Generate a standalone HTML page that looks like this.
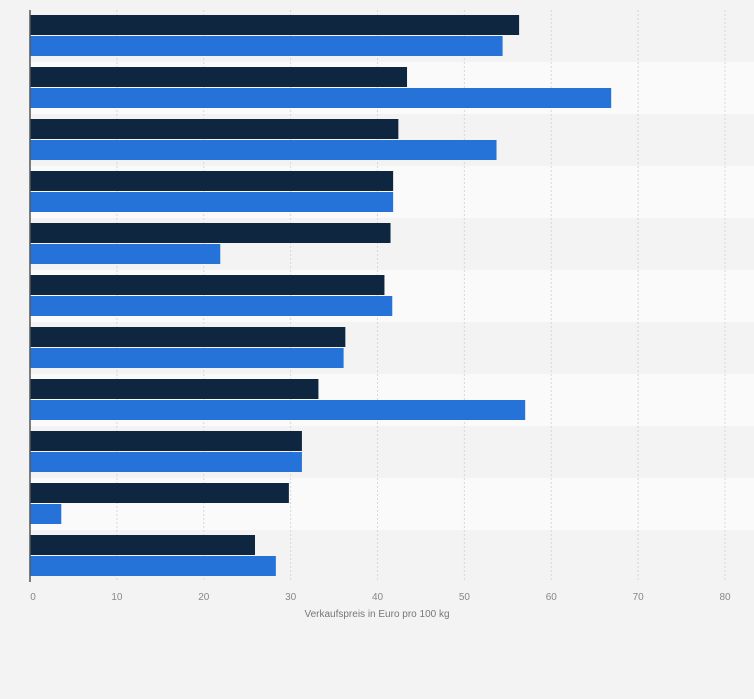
<!DOCTYPE html>
<html><head><meta charset="utf-8"><style>
body{margin:0;background:#f3f3f3;font-family:"Liberation Sans",sans-serif;}
svg{display:block;}
</style></head><body>
<svg id="c" width="754" height="699" xmlns="http://www.w3.org/2000/svg"></svg>
<script>
const categories=["r1","r2","r3","r4","r5","r6","r7","r8","r9","r10","r11"];
const series1=[56.3,43.4,42.4,41.8,41.5,40.8,36.3,33.2,31.3,29.8,25.9];
const series2=[54.4,66.9,53.7,41.8,21.9,41.7,36.1,57.0,31.3,3.6,28.3];
const ticks=[0,10,20,30,40,50,60,70,80];
const NS="http://www.w3.org/2000/svg",svgEl=document.getElementById('c');
const x0=30,x1=725,topY=10,rowH=52,maxV=80;
const xs=v=>x0+v/maxV*(x1-x0);
function el(t,a){const e=document.createElementNS(NS,t);for(const k in a)e.setAttribute(k,a[k]);svgEl.appendChild(e);return e;}
categories.forEach((c,i)=>{
  if(i%2===1){const b=el('rect',{x:x0,y:topY+i*rowH,width:x1-x0+29,height:rowH,fill:'#fafafa'});
  
  }
});
ticks.forEach(t=>{
  if(t>0){const g=el('line',{x1:xs(t),x2:xs(t),y1:topY,y2:topY+rowH*categories.length,stroke:'#d8d8d8','stroke-dasharray':'2,2'});
  
  }
  const l=el('text',{x:xs(t)+(t===0?3:0),y:600,'font-size':10,fill:'#888','text-anchor':'middle'});
  l.textContent=t;
  
  
});
categories.forEach((c,i)=>{
  const y=topY+i*rowH;
  const a=el('rect',{x:x0,y:y+5,width:xs(series1[i])-x0,height:20,fill:'#0f2640'});
  
  
  const b=el('rect',{x:x0,y:y+26,width:xs(series2[i])-x0,height:20,fill:'#2573d9'});
  
  
});
const ax=el('line',{x1:x0,x2:x0,y1:topY,y2:topY+rowH*categories.length,stroke:'#555','stroke-width':1.5});


const tt=el('text',{x:377,y:617,'font-size':10,fill:'#777','text-anchor':'middle'});
tt.textContent='Verkaufspreis in Euro pro 100 kg';


</script>
</body></html>
